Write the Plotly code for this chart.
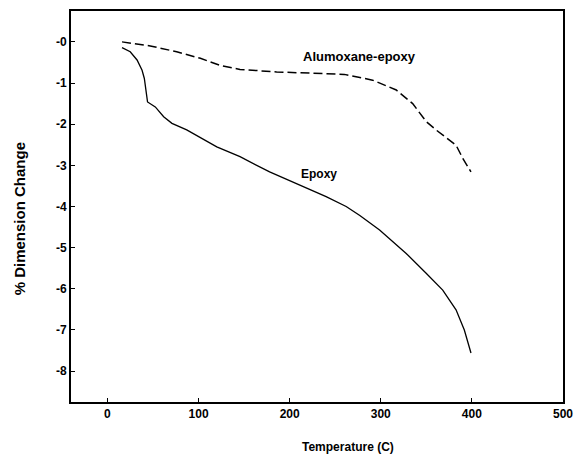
import plotly.graph_objects as go

epoxy_t = [16, 25, 32.5, 38, 40.5, 44, 52.5, 61.7, 70.8, 87, 120, 145.5, 178, 211, 240, 262, 277, 298.7, 327.9, 349.8, 368, 382.6, 391.7, 399]
epoxy_d = [-0.14, -0.24, -0.44, -0.69, -0.89, -1.46, -1.58, -1.82, -1.98, -2.14, -2.55, -2.79, -3.16, -3.48, -3.76, -4.0, -4.22, -4.57, -5.14, -5.62, -6.03, -6.51, -7.0, -7.56]

alum_t = [16, 47, 76, 102, 123.6, 145.5, 185.7, 233, 260, 291, 317, 335, 350, 360.7, 382.6, 390, 399]
alum_d = [0.0, -0.10, -0.24, -0.40, -0.57, -0.67, -0.73, -0.77, -0.79, -0.93, -1.17, -1.5, -1.94, -2.14, -2.51, -2.83, -3.16]

x_ticks = [0, 100, 200, 300, 400, 500]
y_ticks = [0, -1, -2, -3, -4, -5, -6, -7, -8]
y_ticktext = ["-0", "-1", "-2", "-3", "-4", "-5", "-6", "-7", "-8"]

FONT = "Liberation Sans, Arial, sans-serif"

fig = go.Figure()
fig.add_trace(go.Scatter(x=epoxy_t, y=epoxy_d, mode="lines", line=dict(color="black", width=1.3), showlegend=False))
fig.add_trace(go.Scatter(x=alum_t, y=alum_d, mode="lines", line=dict(color="black", width=1.5, dash="9px,4px"), showlegend=False))

fig.update_layout(
    width=574, height=458, autosize=False,
    margin=dict(l=71, r=11, t=11, b=56),
    paper_bgcolor="white", plot_bgcolor="white",
    font=dict(family=FONT, size=12, color="black"),
    xaxis=dict(range=[-40, 500], tickvals=x_ticks, ticks="inside", ticklen=4, tickcolor="black", automargin=False,
               showline=True, linecolor="black", linewidth=2, mirror=True, showgrid=False, zeroline=False,
               tickfont=dict(family=FONT, size=12, color="black", weight="bold")),
    yaxis=dict(range=[-8.75, 0.75], tickvals=y_ticks, ticktext=y_ticktext, ticks="inside", ticklen=4, tickcolor="black", automargin=False,
               showline=True, linecolor="black", linewidth=2, mirror=True, showgrid=False, zeroline=False,
               tickfont=dict(family=FONT, size=12, color="black", weight="bold")),
    annotations=[
        dict(text="<b>% Dimension Change</b>", xref="paper", yref="paper", x=-0.105, y=0.468,
             xanchor="center", yanchor="middle",
             textangle=-90, showarrow=False, font=dict(family=FONT, size=15, color="black")),
        dict(text="<b>Temperature (C)</b>", xref="paper", yref="paper", x=0.563, y=-0.115,
             xanchor="center", yanchor="middle",
             showarrow=False, font=dict(family=FONT, size=12, color="black")),
        dict(text="<b>Alumoxane-epoxy</b>", x=277, y=-0.36, xref="x", yref="y",
             xanchor="center", yanchor="middle",
             showarrow=False, font=dict(family=FONT, size=13, color="black")),
        dict(text="<b>Epoxy</b>", x=232, y=-3.22, xref="x", yref="y",
             xanchor="center", yanchor="middle",
             showarrow=False, font=dict(family=FONT, size=12, color="black")),
    ],
)

fig.write_html("out.html",
               config={"responsive": False, "displayModeBar": False},
               post_script="document.body.style.margin='0';document.body.style.overflow='hidden';")
